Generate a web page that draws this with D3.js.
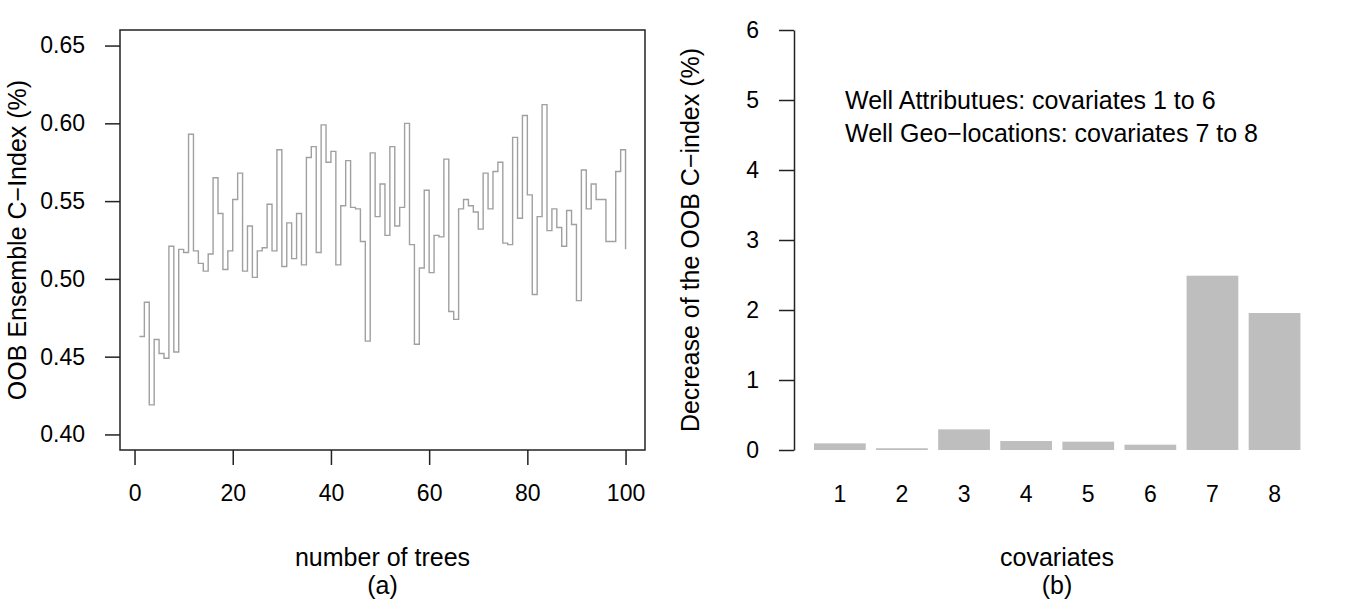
<!DOCTYPE html>
<html>
<head>
<meta charset="utf-8">
<script src="https://cdn.jsdelivr.net/npm/d3@7"></script>
<style>
  body { margin: 0; background: #fff; }
  svg { font-family: "Liberation Sans", Arial, sans-serif; }
  .axis text { font-size: 23px; fill: #000; }
  .axis path, .axis line { stroke: #222; stroke-width: 1.5; }
  .lab { font-size: 25px; fill: #000; }
</style>
</head>
<body>
<div id="chart"></div>
<script>
// panel (a): OOB ensemble C-index per number of trees
const trees = d3.range(1, 101);
const cindex = [
  0.463, 0.485, 0.419, 0.461, 0.452, 0.449, 0.521, 0.453, 0.519, 0.517,
  0.593, 0.518, 0.510, 0.505, 0.516, 0.565, 0.542, 0.506, 0.518, 0.551,
  0.568, 0.505, 0.534, 0.501, 0.518, 0.520, 0.548, 0.518, 0.583, 0.508,
  0.536, 0.513, 0.542, 0.509, 0.578, 0.585, 0.517, 0.599, 0.575, 0.582,
  0.509, 0.547, 0.576, 0.546, 0.545, 0.524, 0.460, 0.581, 0.540, 0.561,
  0.528, 0.585, 0.534, 0.546, 0.600, 0.522, 0.458, 0.507, 0.557, 0.504,
  0.528, 0.527, 0.577, 0.479, 0.474, 0.545, 0.551, 0.547, 0.543, 0.532,
  0.568, 0.545, 0.569, 0.575, 0.523, 0.522, 0.591, 0.539, 0.605, 0.554,
  0.490, 0.540, 0.612, 0.531, 0.545, 0.533, 0.521, 0.544, 0.535, 0.486,
  0.570, 0.545, 0.561, 0.551, 0.551, 0.524, 0.524, 0.569, 0.583, 0.519
];
const xTicksA = [0, 20, 40, 60, 80, 100];
const yTicksA = [0.40, 0.45, 0.50, 0.55, 0.60, 0.65];

// panel (b): decrease of the OOB C-index per covariate
const covariates = ["1", "2", "3", "4", "5", "6", "7", "8"];
const decrease = [0.095, 0.025, 0.295, 0.128, 0.119, 0.076, 2.49, 1.957];
const yTicksB = [0, 1, 2, 3, 4, 5, 6];

const width = 1350, height = 600;
const plotTop = 30, plotBottom = 450;

const svg = d3.select("#chart").append("svg")
    .attr("width", width)
    .attr("height", height);

// ---------- panel (a) ----------
const xa = d3.scaleLinear().domain([1 - 0.04 * 99, 100 + 0.04 * 99]).range([120, 645]);
const ya = d3.scaleLinear().domain([0.39, 0.66]).range([plotBottom, plotTop]);

const line = d3.line()
    .x((d, i) => xa(trees[i]))
    .y(d => ya(d))
    .curve(d3.curveStepAfter);

svg.append("path")
    .datum(cindex)
    .attr("fill", "none")
    .attr("stroke", "#a0a0a0")
    .attr("stroke-width", 1.4)
    .attr("d", line);

svg.append("rect")
    .attr("x", 120).attr("y", plotTop)
    .attr("width", 525).attr("height", plotBottom - plotTop)
    .attr("fill", "none")
    .attr("stroke", "#222")
    .attr("stroke-width", 1.5);

svg.append("g")
    .attr("class", "axis")
    .attr("transform", "translate(0," + plotBottom + ")")
    .call(d3.axisBottom(xa).tickValues(xTicksA).tickSize(15).tickPadding(20).tickSizeOuter(0))
    .call(g => g.select(".domain").remove());

svg.append("g")
    .attr("class", "axis")
    .attr("transform", "translate(120,0)")
    .call(d3.axisLeft(ya).tickValues(yTicksA).tickFormat(d3.format(".2f")).tickSize(15).tickPadding(20).tickSizeOuter(0))
    .call(g => g.select(".domain").remove());

svg.append("text")
    .attr("class", "lab")
    .attr("transform", "translate(26,240) rotate(-90)")
    .attr("text-anchor", "middle")
    .text("OOB Ensemble C\u2212Index (%)");

svg.append("text")
    .attr("class", "lab")
    .attr("x", 382.5).attr("y", 566)
    .attr("text-anchor", "middle")
    .text("number of trees");

svg.append("text")
    .attr("class", "lab")
    .attr("x", 382.5).attr("y", 594)
    .attr("text-anchor", "middle")
    .text("(a)");

// ---------- panel (b) ----------
const xb = d3.scaleBand()
    .domain(covariates)
    .range([808.8, 1305.6])
    .paddingInner(1 / 6)
    .paddingOuter(1 / 12);
const yb = d3.scaleLinear().domain([0, 6]).range([plotBottom, plotTop]);

svg.append("g")
    .selectAll("rect")
    .data(decrease)
    .enter().append("rect")
      .attr("x", (d, i) => xb(covariates[i]))
      .attr("y", d => yb(d))
      .attr("width", xb.bandwidth())
      .attr("height", d => yb(0) - yb(d))
      .attr("fill", "#bebebe");

svg.append("g")
    .attr("class", "axis")
    .attr("transform", "translate(794,0)")
    .call(d3.axisLeft(yb).tickValues(yTicksB).tickFormat(d3.format("d")).tickSize(15).tickPadding(20).tickSizeOuter(0));

svg.append("g")
    .attr("class", "axis")
    .attr("transform", "translate(0," + plotBottom + ")")
    .call(d3.axisBottom(xb).tickSize(0).tickPadding(36))
    .call(g => g.select(".domain").remove());

svg.append("text")
    .attr("class", "lab")
    .attr("transform", "translate(699,240) rotate(-90)")
    .attr("text-anchor", "middle")
    .text("Decrease of the OOB C\u2212index (%)");

svg.append("text")
    .attr("class", "lab")
    .attr("x", 845).attr("y", 109)
    .text("Well Attributues: covariates 1 to 6");

svg.append("text")
    .attr("class", "lab")
    .attr("x", 845).attr("y", 142)
    .text("Well Geo\u2212locations: covariates 7 to 8");

svg.append("text")
    .attr("class", "lab")
    .attr("x", 1057).attr("y", 566)
    .attr("text-anchor", "middle")
    .text("covariates");

svg.append("text")
    .attr("class", "lab")
    .attr("x", 1057).attr("y", 594)
    .attr("text-anchor", "middle")
    .text("(b)");
</script>
</body>
</html>
